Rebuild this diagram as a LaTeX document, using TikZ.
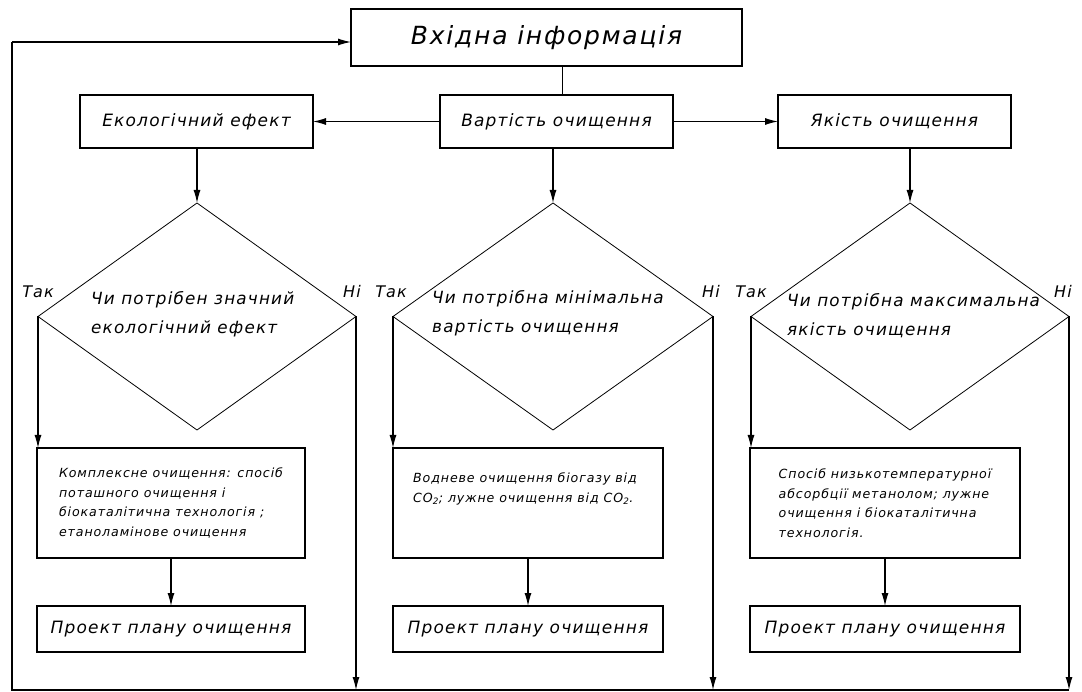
\documentclass[tikz,border=0pt]{standalone}
\usepackage{fontspec}
\setmainfont{DejaVu Sans}
\newfontfamily\gost[LetterSpace=7]{DejaVu Sans}
\usetikzlibrary{shapes.geometric,arrows.meta,calc}
\begin{document}
\begin{tikzpicture}[x=1pt,y=-1pt,
  conn/.style={line width=1.1pt},
  arr/.style={conn,-{Latex[length=13pt,width=7pt]}},
  box/.style={draw,line width=1.1pt,inner sep=0pt,outer sep=0pt},
  bigtxt/.style={font=\gost\itshape\fontsize{25}{30}\selectfont},
  midtxt/.style={font=\gost\itshape\fontsize{17}{20}\selectfont},
  dtxt/.style={font=\gost\itshape\fontsize{16.8}{29}\selectfont,align=left,inner sep=0pt,anchor=west},
  smalltxt/.style={font=\gost\itshape\fontsize{12.6}{19.5}\selectfont},
  dia/.style={draw,diamond,line width=0.8pt,inner sep=0pt,outer sep=0pt},
  lbl/.style={font=\gost\itshape\fontsize{16}{20}\selectfont}
]
\useasboundingbox (0,0) rectangle (1082,692);

% top
\node[box,bigtxt,minimum width=391,minimum height=57] (top) at (546.5,37.5) {Вхідна інформація};
\node[box,midtxt,minimum width=233,minimum height=53] (eco) at (196.5,121.5) {Екологічний ефект};
\node[box,midtxt,minimum width=233,minimum height=53] (cost) at (556.5,121.5) {Вартість очищення};
\node[box,midtxt,minimum width=233,minimum height=53] (qual) at (894.5,121.5) {Якість очищення};

\draw[conn] (top.south -| cost.north) ++(6,0) coordinate (ts) (ts) -- (ts |- cost.north);
\draw[arr] (cost.west) -- (eco.east);
\draw[arr] (cost.east) -- (qual.west);

% diamonds
\node[dia,minimum width=318,minimum height=227] (d1) at (197,316.5) {};
\node[dia,minimum width=320,minimum height=227] (d2) at (553,316.5) {};
\node[dia,minimum width=318,minimum height=227] (d3) at (910,316.5) {};
\node[dtxt] (d1t) at (91,314) {Чи потрібен значний\\екологічний ефект};
\node[dtxt] (d2t) at (432,313) {Чи потрібна мінімальна\\вартість очищення};
\node[dtxt] (d3t) at (787,316) {Чи потрібна максимальна\\якість очищення};

\draw[arr] (eco.south -| d1.north) -- (d1.north);
\draw[arr] (cost.south -| d2.north) -- (d2.north);
\draw[arr] (qual.south -| d3.north) -- (d3.north);

\node[lbl] (t1) at ($(d1.west)+(0,-25)$) {Так};
\node[lbl] (n1) at ($(d1.east)+(-4,-25)$) {Ні};
\node[lbl] (t2) at ($(d2.west)+(-2,-25)$) {Так};
\node[lbl] (n2) at ($(d2.east)+(-2,-25)$) {Ні};
\node[lbl] (t3) at ($(d3.west)+(0,-25)$) {Так};
\node[lbl] (n3) at ($(d3.east)+(-6,-25)$) {Ні};

% process boxes
\node[box,smalltxt,align=left,minimum width=268,minimum height=110] (b1) at (171,503) {Комплексне очищення: спосіб\\поташного очищення і\\біокаталітична технологія ;\\етаноламінове очищення};
\node[box,minimum width=270,minimum height=110] (b2) at (528,503) {};
\node[smalltxt,align=left,anchor=north west,inner sep=0pt] (b2t) at (413,473) {Водневе очищення біогазу від\\CO\textsubscript{2}; лужне очищення від CO\textsubscript{2}.};
\node[box,smalltxt,align=left,minimum width=270,minimum height=110] (b3) at (885,503) {Спосіб низькотемпературної\\абсорбції метанолом; лужне\\очищення і біокаталітична\\технологія.};

\draw[arr] (d1.west) -- (d1.west |- b1.north);
\draw[arr] (d2.west) -- (d2.west |- b2.north);
\draw[arr] (d3.west) -- (d3.west |- b3.north);

% project boxes
\node[box,midtxt,minimum width=268,minimum height=46] (p1) at (171,629) {Проект плану очищення};
\node[box,midtxt,minimum width=270,minimum height=46] (p2) at (528,629) {Проект плану очищення};
\node[box,midtxt,minimum width=270,minimum height=46] (p3) at (885,629) {Проект плану очищення};

\draw[arr] (b1.south) -- (p1.north);
\draw[arr] (b2.south) -- (p2.north);
\draw[arr] (b3.south) -- (p3.north);

% no branches and feedback
\coordinate (bl) at (12,690);
\coordinate (tl) at (12,42);
\draw[arr] (d1.east) -- (d1.east |- bl);
\draw[arr] (d2.east) -- (d2.east |- bl);
\draw[arr] (d3.east) -- (d3.east |- bl);
\draw[conn] (d3.east |- bl) -- (bl) -- (tl);
\draw[arr] (tl) -- (top.west |- tl);
\end{tikzpicture}
\end{document}
